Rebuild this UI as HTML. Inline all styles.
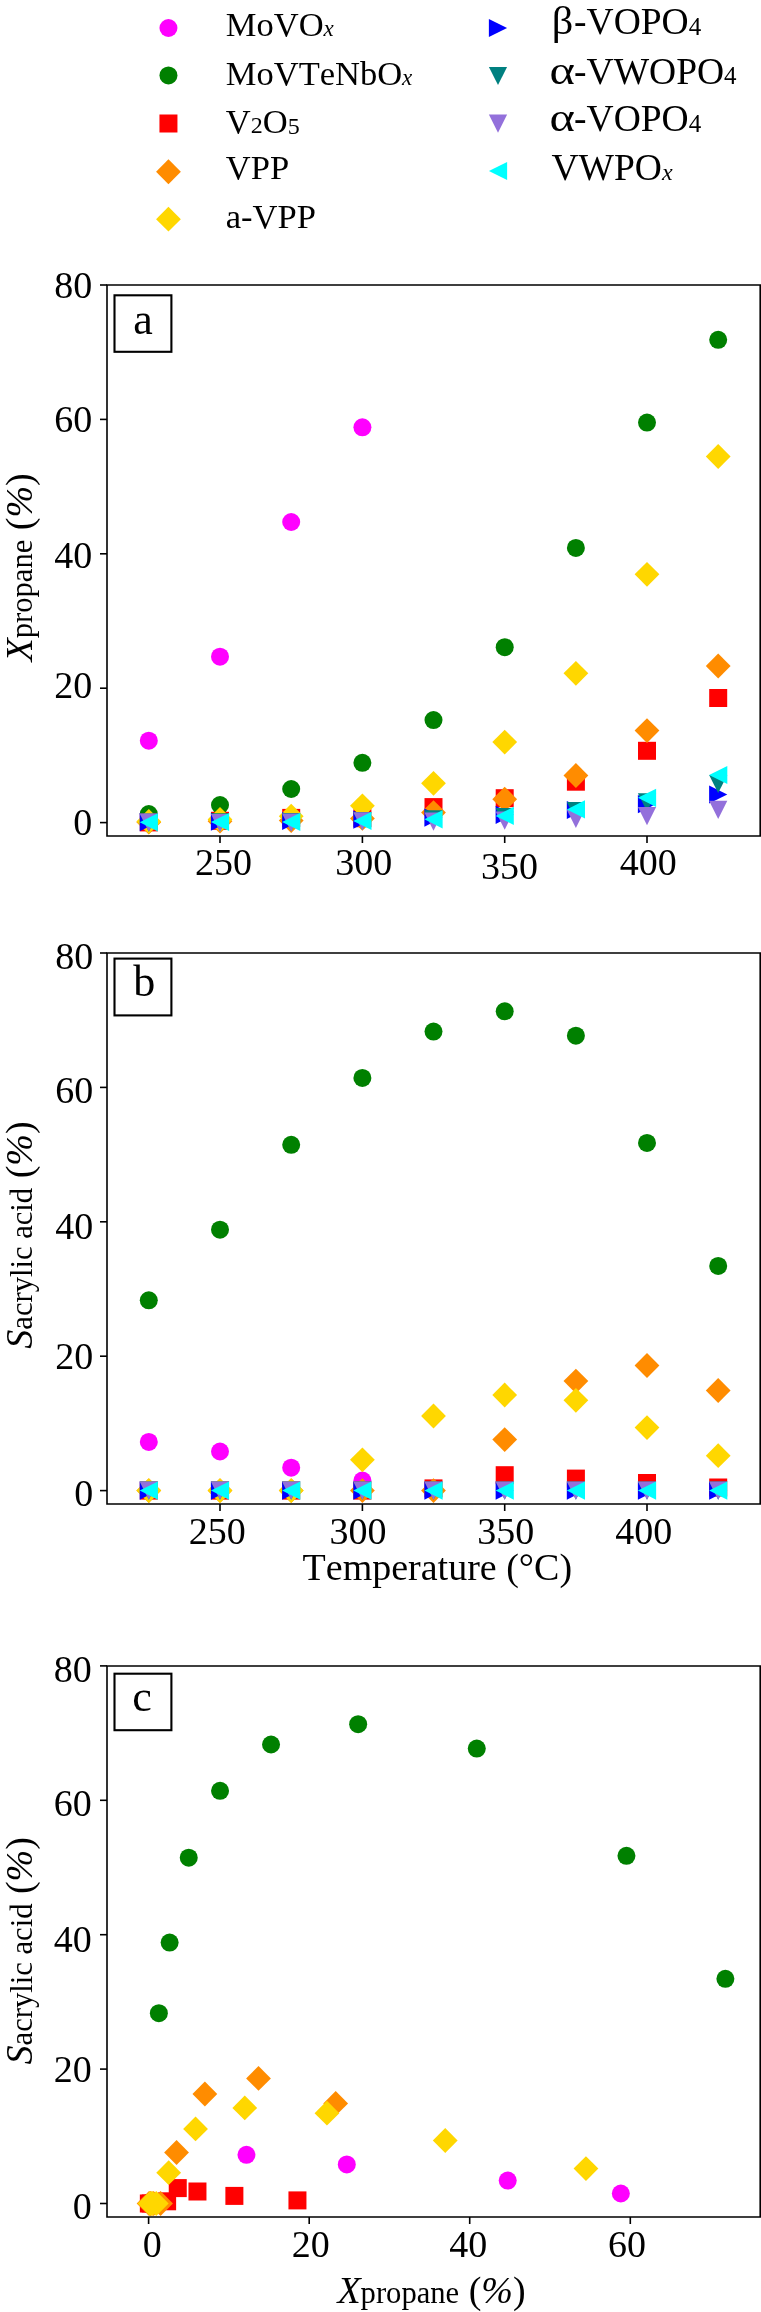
<!DOCTYPE html><html><head><meta charset="utf-8"><title>Propane oxidation catalysts</title><style>html,body{margin:0;padding:0;background:#fff;}svg{display:block;will-change:transform;} text{font-family:'Liberation Serif',serif;fill:#000;font-kerning:none;}</style></head><body>
<svg width="761" height="2312" viewBox="0 0 761 2312">
<rect width="761" height="2312" fill="#fff"/>
<circle cx="168.45" cy="28.00" r="9.0" fill="#FF00FF"/>
<circle cx="168.45" cy="75.45" r="9.0" fill="#008000"/>
<rect x="159.45" y="114.50" width="18.0" height="18.0" fill="#FF0000"/>
<path d="M168.45 159.35L180.85 171.75L168.45 184.15L156.05 171.75Z" fill="#FF8C00"/>
<path d="M168.45 206.80L180.85 219.20L168.45 231.60L156.05 219.20Z" fill="#FFD700"/>
<path d="M488.90 18.90L507.10 28.00L488.90 37.10Z" fill="#0000FF"/>
<path d="M488.90 66.90L507.10 66.90L498.00 85.10Z" fill="#008080"/>
<path d="M488.90 114.50L507.10 114.50L498.00 132.70Z" fill="#9370DB"/>
<path d="M507.10 161.90L488.90 171.00L507.10 180.10Z" fill="#00FFFF"/>
<text x="225.8" y="36.0" style="font-size:34.5px"><tspan>MoVO</tspan><tspan style="font-size:23px;font-style:italic">x</tspan></text>
<text x="225.8" y="85.0" style="font-size:34.5px"><tspan>MoVTeNbO</tspan><tspan style="font-size:23px;font-style:italic">x</tspan></text>
<text x="225.8" y="132.5" style="font-size:34.5px"><tspan>V</tspan><tspan style="font-size:24px" dy="0.6">2</tspan><tspan dy="-0.6"></tspan><tspan>O</tspan><tspan style="font-size:24px" dy="0.6">5</tspan><tspan dy="-0.6"></tspan></text>
<text x="225.8" y="179.1" style="font-size:34.5px"><tspan>VPP</tspan></text>
<text x="225.8" y="227.9" style="font-size:34.5px"><tspan>a-VPP</tspan></text>
<text transform="translate(551.8,34.1) scale(1.06,1)" x="0" y="0" style="font-size:40px">β</text>
<text x="574.1" y="34.1" style="font-size:37.5px"><tspan>-VOPO</tspan><tspan style="font-size:25px" dy="0.6">4</tspan><tspan dy="-0.6"></tspan></text>
<text transform="translate(549.6,83.5) scale(1.24,1)" x="0" y="0" style="font-size:39px">α</text>
<text x="574.1" y="83.5" style="font-size:37.5px"><tspan>-VWOPO</tspan><tspan style="font-size:25px" dy="0.6">4</tspan><tspan dy="-0.6"></tspan></text>
<text transform="translate(549.6,131.2) scale(1.24,1)" x="0" y="0" style="font-size:39px">α</text>
<text x="574.1" y="131.2" style="font-size:37.5px"><tspan>-VOPO</tspan><tspan style="font-size:25px" dy="0.6">4</tspan><tspan dy="-0.6"></tspan></text>
<text x="551.5" y="179.6" style="font-size:37.5px"><tspan>VWPO</tspan><tspan style="font-size:24px;font-style:italic">x</tspan></text>
<path d="M107.0 285.0V836.0H760.2V285.0Z" fill="none" stroke="#000" stroke-width="1.6" stroke-linejoin="miter"/><path d="M100.0 822.60H107.0" stroke="#000" stroke-width="1.6"/><text x="92.25" y="834.85" text-anchor="end" style="font-size:38px">0</text><path d="M100.0 688.20H107.0" stroke="#000" stroke-width="1.6"/><text x="92.25" y="697.90" text-anchor="end" style="font-size:38px">20</text><path d="M100.0 553.80H107.0" stroke="#000" stroke-width="1.6"/><text x="92.25" y="567.75" text-anchor="end" style="font-size:38px">40</text><path d="M100.0 419.40H107.0" stroke="#000" stroke-width="1.6"/><text x="92.25" y="432.35" text-anchor="end" style="font-size:38px">60</text><path d="M100.0 285.00H107.0" stroke="#000" stroke-width="1.6"/><text x="92.25" y="297.80" text-anchor="end" style="font-size:38px">80</text>
<path d="M220.0 836.0V843.0" stroke="#000" stroke-width="1.6"/><path d="M362.4 836.0V843.0" stroke="#000" stroke-width="1.6"/><path d="M504.7 836.0V843.0" stroke="#000" stroke-width="1.6"/><path d="M647.0 836.0V843.0" stroke="#000" stroke-width="1.6"/>
<text x="223.4" y="874.55" text-anchor="middle" style="font-size:38px">250</text><text x="363.8" y="874.55" text-anchor="middle" style="font-size:38px">300</text><text x="509.6" y="878.9" text-anchor="middle" style="font-size:38px">350</text><text x="648.3" y="874.85" text-anchor="middle" style="font-size:38px">400</text>
<circle cx="148.80" cy="740.70" r="9.0" fill="#FF00FF"/>
<circle cx="220.00" cy="656.70" r="9.0" fill="#FF00FF"/>
<circle cx="291.20" cy="522.00" r="9.0" fill="#FF00FF"/>
<circle cx="362.40" cy="427.30" r="9.0" fill="#FF00FF"/>
<circle cx="148.80" cy="814.00" r="9.0" fill="#008000"/>
<circle cx="220.00" cy="805.00" r="9.0" fill="#008000"/>
<circle cx="291.20" cy="789.00" r="9.0" fill="#008000"/>
<circle cx="362.40" cy="762.80" r="9.0" fill="#008000"/>
<circle cx="433.50" cy="720.10" r="9.0" fill="#008000"/>
<circle cx="504.70" cy="647.20" r="9.0" fill="#008000"/>
<circle cx="575.90" cy="547.90" r="9.0" fill="#008000"/>
<circle cx="647.00" cy="422.60" r="9.0" fill="#008000"/>
<circle cx="718.20" cy="339.80" r="9.0" fill="#008000"/>
<rect x="139.80" y="813.40" width="18.0" height="18.0" fill="#FF0000"/>
<rect x="211.00" y="811.80" width="18.0" height="18.0" fill="#FF0000"/>
<rect x="282.20" y="808.90" width="18.0" height="18.0" fill="#FF0000"/>
<rect x="353.40" y="809.20" width="18.0" height="18.0" fill="#FF0000"/>
<rect x="424.50" y="798.10" width="18.0" height="18.0" fill="#FF0000"/>
<rect x="495.70" y="789.20" width="18.0" height="18.0" fill="#FF0000"/>
<rect x="566.90" y="772.70" width="18.0" height="18.0" fill="#FF0000"/>
<rect x="638.00" y="741.80" width="18.0" height="18.0" fill="#FF0000"/>
<rect x="709.20" y="689.00" width="18.0" height="18.0" fill="#FF0000"/>
<path d="M148.80 809.80L161.20 822.20L148.80 834.60L136.40 822.20Z" fill="#FF8C00"/>
<path d="M220.00 808.80L232.40 821.20L220.00 833.60L207.60 821.20Z" fill="#FF8C00"/>
<path d="M291.20 808.20L303.60 820.60L291.20 833.00L278.80 820.60Z" fill="#FF8C00"/>
<path d="M362.40 806.00L374.80 818.40L362.40 830.80L350.00 818.40Z" fill="#FF8C00"/>
<path d="M433.50 800.20L445.90 812.60L433.50 825.00L421.10 812.60Z" fill="#FF8C00"/>
<path d="M504.70 786.80L517.10 799.20L504.70 811.60L492.30 799.20Z" fill="#FF8C00"/>
<path d="M575.90 763.10L588.30 775.50L575.90 787.90L563.50 775.50Z" fill="#FF8C00"/>
<path d="M647.00 718.20L659.40 730.60L647.00 743.00L634.60 730.60Z" fill="#FF8C00"/>
<path d="M718.20 653.60L730.60 666.00L718.20 678.40L705.80 666.00Z" fill="#FF8C00"/>
<path d="M148.80 809.00L161.20 821.40L148.80 833.80L136.40 821.40Z" fill="#FFD700"/>
<path d="M220.00 807.10L232.40 819.50L220.00 831.90L207.60 819.50Z" fill="#FFD700"/>
<path d="M291.20 803.80L303.60 816.20L291.20 828.60L278.80 816.20Z" fill="#FFD700"/>
<path d="M362.40 793.40L374.80 805.80L362.40 818.20L350.00 805.80Z" fill="#FFD700"/>
<path d="M433.50 770.90L445.90 783.30L433.50 795.70L421.10 783.30Z" fill="#FFD700"/>
<path d="M504.70 729.70L517.10 742.10L504.70 754.50L492.30 742.10Z" fill="#FFD700"/>
<path d="M575.90 660.90L588.30 673.30L575.90 685.70L563.50 673.30Z" fill="#FFD700"/>
<path d="M647.00 561.90L659.40 574.30L647.00 586.70L634.60 574.30Z" fill="#FFD700"/>
<path d="M718.20 444.10L730.60 456.50L718.20 468.90L705.80 456.50Z" fill="#FFD700"/>
<path d="M139.70 813.10L157.90 822.20L139.70 831.30Z" fill="#0000FF"/>
<path d="M210.90 812.60L229.10 821.70L210.90 830.80Z" fill="#0000FF"/>
<path d="M282.10 811.90L300.30 821.00L282.10 830.10Z" fill="#0000FF"/>
<path d="M353.30 810.60L371.50 819.70L353.30 828.80Z" fill="#0000FF"/>
<path d="M424.40 808.50L442.60 817.60L424.40 826.70Z" fill="#0000FF"/>
<path d="M495.60 805.70L513.80 814.80L495.60 823.90Z" fill="#0000FF"/>
<path d="M566.80 800.90L585.00 810.00L566.80 819.10Z" fill="#0000FF"/>
<path d="M637.90 795.00L656.10 804.10L637.90 813.20Z" fill="#0000FF"/>
<path d="M709.10 785.40L727.30 794.50L709.10 803.60Z" fill="#0000FF"/>
<path d="M139.70 813.50L157.90 813.50L148.80 831.70Z" fill="#008080"/>
<path d="M210.90 813.30L229.10 813.30L220.00 831.50Z" fill="#008080"/>
<path d="M282.10 813.10L300.30 813.10L291.20 831.30Z" fill="#008080"/>
<path d="M353.30 811.90L371.50 811.90L362.40 830.10Z" fill="#008080"/>
<path d="M424.40 810.30L442.60 810.30L433.50 828.50Z" fill="#008080"/>
<path d="M495.60 808.00L513.80 808.00L504.70 826.20Z" fill="#008080"/>
<path d="M566.80 801.90L585.00 801.90L575.90 820.10Z" fill="#008080"/>
<path d="M637.90 793.30L656.10 793.30L647.00 811.50Z" fill="#008080"/>
<path d="M709.10 774.90L727.30 774.90L718.20 793.10Z" fill="#008080"/>
<path d="M139.70 813.50L157.90 813.50L148.80 831.70Z" fill="#9370DB"/>
<path d="M210.90 813.90L229.10 813.90L220.00 832.10Z" fill="#9370DB"/>
<path d="M282.10 813.60L300.30 813.60L291.20 831.80Z" fill="#9370DB"/>
<path d="M353.30 812.30L371.50 812.30L362.40 830.50Z" fill="#9370DB"/>
<path d="M424.40 812.60L442.60 812.60L433.50 830.80Z" fill="#9370DB"/>
<path d="M495.60 811.50L513.80 811.50L504.70 829.70Z" fill="#9370DB"/>
<path d="M566.80 809.70L585.00 809.70L575.90 827.90Z" fill="#9370DB"/>
<path d="M637.90 807.10L656.10 807.10L647.00 825.30Z" fill="#9370DB"/>
<path d="M709.10 800.70L727.30 800.70L718.20 818.90Z" fill="#9370DB"/>
<path d="M157.90 813.20L139.70 822.30L157.90 831.40Z" fill="#00FFFF"/>
<path d="M229.10 812.90L210.90 822.00L229.10 831.10Z" fill="#00FFFF"/>
<path d="M300.30 812.80L282.10 821.90L300.30 831.00Z" fill="#00FFFF"/>
<path d="M371.50 811.80L353.30 820.90L371.50 830.00Z" fill="#00FFFF"/>
<path d="M442.60 810.20L424.40 819.30L442.60 828.40Z" fill="#00FFFF"/>
<path d="M513.80 806.80L495.60 815.90L513.80 825.00Z" fill="#00FFFF"/>
<path d="M585.00 800.30L566.80 809.40L585.00 818.50Z" fill="#00FFFF"/>
<path d="M656.10 788.70L637.90 797.80L656.10 806.90Z" fill="#00FFFF"/>
<path d="M727.30 765.90L709.10 775.00L727.30 784.10Z" fill="#00FFFF"/>
<rect x="114.5" y="295.3" width="56.90" height="56.50" fill="#fff" stroke="#000" stroke-width="2.1"/><text x="142.9" y="333.5" text-anchor="middle" style="font-size:44px">a</text>
<text transform="translate(32.0,661.5) rotate(-90)" x="0" y="0" style="font-size:38px"><tspan style="font-style:italic">X</tspan><tspan style="font-size:30.6px">propane</tspan><tspan> (</tspan><tspan style="font-style:italic">%</tspan><tspan>)</tspan></text>
<path d="M107.0 953.0V1504.0H760.2V953.0Z" fill="none" stroke="#000" stroke-width="1.6" stroke-linejoin="miter"/><path d="M100.0 1490.60H107.0" stroke="#000" stroke-width="1.6"/><text x="93.25" y="1505.85" text-anchor="end" style="font-size:38px">0</text><path d="M100.0 1356.20H107.0" stroke="#000" stroke-width="1.6"/><text x="93.25" y="1368.80" text-anchor="end" style="font-size:38px">20</text><path d="M100.0 1221.80H107.0" stroke="#000" stroke-width="1.6"/><text x="93.25" y="1238.95" text-anchor="end" style="font-size:38px">40</text><path d="M100.0 1087.40H107.0" stroke="#000" stroke-width="1.6"/><text x="93.25" y="1103.25" text-anchor="end" style="font-size:38px">60</text><path d="M100.0 953.00H107.0" stroke="#000" stroke-width="1.6"/><text x="93.25" y="968.75" text-anchor="end" style="font-size:38px">80</text>
<path d="M220.0 1504.0V1511.0" stroke="#000" stroke-width="1.6"/><path d="M362.4 1504.0V1511.0" stroke="#000" stroke-width="1.6"/><path d="M504.7 1504.0V1511.0" stroke="#000" stroke-width="1.6"/><path d="M647.0 1504.0V1511.0" stroke="#000" stroke-width="1.6"/>
<text x="217.15" y="1543.8" text-anchor="middle" style="font-size:38px">250</text><text x="358.05" y="1543.8" text-anchor="middle" style="font-size:38px">300</text><text x="505.8" y="1543.8" text-anchor="middle" style="font-size:38px">350</text><text x="643.85" y="1543.8" text-anchor="middle" style="font-size:38px">400</text>
<circle cx="148.80" cy="1441.90" r="9.0" fill="#FF00FF"/>
<circle cx="220.00" cy="1451.50" r="9.0" fill="#FF00FF"/>
<circle cx="291.20" cy="1467.70" r="9.0" fill="#FF00FF"/>
<circle cx="362.40" cy="1480.60" r="9.0" fill="#FF00FF"/>
<circle cx="148.80" cy="1300.30" r="9.0" fill="#008000"/>
<circle cx="220.00" cy="1229.70" r="9.0" fill="#008000"/>
<circle cx="291.20" cy="1144.80" r="9.0" fill="#008000"/>
<circle cx="362.40" cy="1077.90" r="9.0" fill="#008000"/>
<circle cx="433.50" cy="1031.60" r="9.0" fill="#008000"/>
<circle cx="504.70" cy="1011.30" r="9.0" fill="#008000"/>
<circle cx="575.90" cy="1035.70" r="9.0" fill="#008000"/>
<circle cx="647.00" cy="1142.90" r="9.0" fill="#008000"/>
<circle cx="718.20" cy="1265.90" r="9.0" fill="#008000"/>
<rect x="139.80" y="1481.60" width="18.0" height="18.0" fill="#FF0000"/>
<rect x="211.00" y="1481.60" width="18.0" height="18.0" fill="#FF0000"/>
<rect x="282.20" y="1481.60" width="18.0" height="18.0" fill="#FF0000"/>
<rect x="353.40" y="1481.60" width="18.0" height="18.0" fill="#FF0000"/>
<rect x="424.50" y="1479.40" width="18.0" height="18.0" fill="#FF0000"/>
<rect x="495.70" y="1466.20" width="18.0" height="18.0" fill="#FF0000"/>
<rect x="566.90" y="1469.60" width="18.0" height="18.0" fill="#FF0000"/>
<rect x="638.00" y="1474.00" width="18.0" height="18.0" fill="#FF0000"/>
<rect x="709.20" y="1478.50" width="18.0" height="18.0" fill="#FF0000"/>
<path d="M148.80 1478.20L161.20 1490.60L148.80 1503.00L136.40 1490.60Z" fill="#FF8C00"/>
<path d="M220.00 1478.20L232.40 1490.60L220.00 1503.00L207.60 1490.60Z" fill="#FF8C00"/>
<path d="M291.20 1478.20L303.60 1490.60L291.20 1503.00L278.80 1490.60Z" fill="#FF8C00"/>
<path d="M362.40 1478.20L374.80 1490.60L362.40 1503.00L350.00 1490.60Z" fill="#FF8C00"/>
<path d="M433.50 1478.20L445.90 1490.60L433.50 1503.00L421.10 1490.60Z" fill="#FF8C00"/>
<path d="M504.70 1427.20L517.10 1439.60L504.70 1452.00L492.30 1439.60Z" fill="#FF8C00"/>
<path d="M575.90 1368.70L588.30 1381.10L575.90 1393.50L563.50 1381.10Z" fill="#FF8C00"/>
<path d="M647.00 1353.10L659.40 1365.50L647.00 1377.90L634.60 1365.50Z" fill="#FF8C00"/>
<path d="M718.20 1378.10L730.60 1390.50L718.20 1402.90L705.80 1390.50Z" fill="#FF8C00"/>
<path d="M148.80 1478.20L161.20 1490.60L148.80 1503.00L136.40 1490.60Z" fill="#FFD700"/>
<path d="M220.00 1478.20L232.40 1490.60L220.00 1503.00L207.60 1490.60Z" fill="#FFD700"/>
<path d="M291.20 1478.20L303.60 1490.60L291.20 1503.00L278.80 1490.60Z" fill="#FFD700"/>
<path d="M362.40 1447.40L374.80 1459.80L362.40 1472.20L350.00 1459.80Z" fill="#FFD700"/>
<path d="M433.50 1403.60L445.90 1416.00L433.50 1428.40L421.10 1416.00Z" fill="#FFD700"/>
<path d="M504.70 1382.60L517.10 1395.00L504.70 1407.40L492.30 1395.00Z" fill="#FFD700"/>
<path d="M575.90 1387.90L588.30 1400.30L575.90 1412.70L563.50 1400.30Z" fill="#FFD700"/>
<path d="M647.00 1415.20L659.40 1427.60L647.00 1440.00L634.60 1427.60Z" fill="#FFD700"/>
<path d="M718.20 1443.30L730.60 1455.70L718.20 1468.10L705.80 1455.70Z" fill="#FFD700"/>
<path d="M139.70 1481.50L157.90 1490.60L139.70 1499.70Z" fill="#0000FF"/>
<path d="M210.90 1481.50L229.10 1490.60L210.90 1499.70Z" fill="#0000FF"/>
<path d="M282.10 1481.50L300.30 1490.60L282.10 1499.70Z" fill="#0000FF"/>
<path d="M353.30 1481.50L371.50 1490.60L353.30 1499.70Z" fill="#0000FF"/>
<path d="M424.40 1481.50L442.60 1490.60L424.40 1499.70Z" fill="#0000FF"/>
<path d="M495.60 1481.50L513.80 1490.60L495.60 1499.70Z" fill="#0000FF"/>
<path d="M566.80 1481.50L585.00 1490.60L566.80 1499.70Z" fill="#0000FF"/>
<path d="M637.90 1481.50L656.10 1490.60L637.90 1499.70Z" fill="#0000FF"/>
<path d="M709.10 1481.50L727.30 1490.60L709.10 1499.70Z" fill="#0000FF"/>
<path d="M139.70 1481.50L157.90 1481.50L148.80 1499.70Z" fill="#008080"/>
<path d="M210.90 1481.50L229.10 1481.50L220.00 1499.70Z" fill="#008080"/>
<path d="M282.10 1481.50L300.30 1481.50L291.20 1499.70Z" fill="#008080"/>
<path d="M353.30 1481.50L371.50 1481.50L362.40 1499.70Z" fill="#008080"/>
<path d="M424.40 1481.50L442.60 1481.50L433.50 1499.70Z" fill="#008080"/>
<path d="M495.60 1481.50L513.80 1481.50L504.70 1499.70Z" fill="#008080"/>
<path d="M566.80 1481.50L585.00 1481.50L575.90 1499.70Z" fill="#008080"/>
<path d="M637.90 1481.50L656.10 1481.50L647.00 1499.70Z" fill="#008080"/>
<path d="M709.10 1481.50L727.30 1481.50L718.20 1499.70Z" fill="#008080"/>
<path d="M139.70 1481.50L157.90 1481.50L148.80 1499.70Z" fill="#9370DB"/>
<path d="M210.90 1481.50L229.10 1481.50L220.00 1499.70Z" fill="#9370DB"/>
<path d="M282.10 1481.50L300.30 1481.50L291.20 1499.70Z" fill="#9370DB"/>
<path d="M353.30 1481.50L371.50 1481.50L362.40 1499.70Z" fill="#9370DB"/>
<path d="M424.40 1481.50L442.60 1481.50L433.50 1499.70Z" fill="#9370DB"/>
<path d="M495.60 1481.50L513.80 1481.50L504.70 1499.70Z" fill="#9370DB"/>
<path d="M566.80 1481.50L585.00 1481.50L575.90 1499.70Z" fill="#9370DB"/>
<path d="M637.90 1481.50L656.10 1481.50L647.00 1499.70Z" fill="#9370DB"/>
<path d="M709.10 1481.50L727.30 1481.50L718.20 1499.70Z" fill="#9370DB"/>
<path d="M157.90 1481.50L139.70 1490.60L157.90 1499.70Z" fill="#00FFFF"/>
<path d="M229.10 1481.50L210.90 1490.60L229.10 1499.70Z" fill="#00FFFF"/>
<path d="M300.30 1481.50L282.10 1490.60L300.30 1499.70Z" fill="#00FFFF"/>
<path d="M371.50 1481.50L353.30 1490.60L371.50 1499.70Z" fill="#00FFFF"/>
<path d="M442.60 1481.50L424.40 1490.60L442.60 1499.70Z" fill="#00FFFF"/>
<path d="M513.80 1481.50L495.60 1490.60L513.80 1499.70Z" fill="#00FFFF"/>
<path d="M585.00 1481.50L566.80 1490.60L585.00 1499.70Z" fill="#00FFFF"/>
<path d="M656.10 1481.50L637.90 1490.60L656.10 1499.70Z" fill="#00FFFF"/>
<path d="M727.30 1481.50L709.10 1490.60L727.30 1499.70Z" fill="#00FFFF"/>
<rect x="114.5" y="958.6" width="56.90" height="56.80" fill="#fff" stroke="#000" stroke-width="2.1"/><text x="144.2" y="995.9" text-anchor="middle" style="font-size:44px">b</text>
<text transform="translate(32.0,1348.7) rotate(-90)" x="0" y="0" style="font-size:38px"><tspan style="font-style:italic">S</tspan><tspan style="font-size:30.6px">acrylic acid</tspan><tspan> (</tspan><tspan style="font-style:italic">%</tspan><tspan>)</tspan></text>
<text x="302.6" y="1580" style="font-size:38px">Temperature (°C)</text>
<path d="M107.0 1666.0V2217.0H760.2V1666.0Z" fill="none" stroke="#000" stroke-width="1.6" stroke-linejoin="miter"/><path d="M100.0 2203.50H107.0" stroke="#000" stroke-width="1.6"/><text x="91.85" y="2218.80" text-anchor="end" style="font-size:38px">0</text><path d="M100.0 2069.10H107.0" stroke="#000" stroke-width="1.6"/><text x="91.85" y="2081.85" text-anchor="end" style="font-size:38px">20</text><path d="M100.0 1934.70H107.0" stroke="#000" stroke-width="1.6"/><text x="91.85" y="1951.80" text-anchor="end" style="font-size:38px">40</text><path d="M100.0 1800.30H107.0" stroke="#000" stroke-width="1.6"/><text x="91.85" y="1816.30" text-anchor="end" style="font-size:38px">60</text><path d="M100.0 1665.90H107.0" stroke="#000" stroke-width="1.6"/><text x="91.85" y="1681.75" text-anchor="end" style="font-size:38px">80</text>
<path d="M148.6 2217.0V2224.0" stroke="#000" stroke-width="1.6"/><path d="M309.2 2217.0V2224.0" stroke="#000" stroke-width="1.6"/><path d="M469.7 2217.0V2224.0" stroke="#000" stroke-width="1.6"/><path d="M630.3 2217.0V2224.0" stroke="#000" stroke-width="1.6"/>
<text x="152.2" y="2257.3" text-anchor="middle" style="font-size:38px">0</text><text x="310.65" y="2257.3" text-anchor="middle" style="font-size:38px">20</text><text x="468.15" y="2257.3" text-anchor="middle" style="font-size:38px">40</text><text x="627.05" y="2257.3" text-anchor="middle" style="font-size:38px">60</text>
<circle cx="246.44" cy="2154.80" r="9.0" fill="#FF00FF"/>
<circle cx="346.79" cy="2164.40" r="9.0" fill="#FF00FF"/>
<circle cx="507.71" cy="2180.60" r="9.0" fill="#FF00FF"/>
<circle cx="620.84" cy="2193.50" r="9.0" fill="#FF00FF"/>
<circle cx="158.87" cy="2013.20" r="9.0" fill="#008000"/>
<circle cx="169.63" cy="1942.60" r="9.0" fill="#008000"/>
<circle cx="188.74" cy="1857.70" r="9.0" fill="#008000"/>
<circle cx="220.04" cy="1790.80" r="9.0" fill="#008000"/>
<circle cx="271.05" cy="1744.50" r="9.0" fill="#008000"/>
<circle cx="358.14" cy="1724.20" r="9.0" fill="#008000"/>
<circle cx="476.77" cy="1748.60" r="9.0" fill="#008000"/>
<circle cx="626.46" cy="1855.80" r="9.0" fill="#008000"/>
<circle cx="725.37" cy="1978.80" r="9.0" fill="#008000"/>
<rect x="139.84" y="2194.50" width="18.0" height="18.0" fill="#FF0000"/>
<rect x="141.75" y="2194.50" width="18.0" height="18.0" fill="#FF0000"/>
<rect x="145.21" y="2194.50" width="18.0" height="18.0" fill="#FF0000"/>
<rect x="144.86" y="2194.50" width="18.0" height="18.0" fill="#FF0000"/>
<rect x="158.12" y="2192.30" width="18.0" height="18.0" fill="#FF0000"/>
<rect x="168.75" y="2179.10" width="18.0" height="18.0" fill="#FF0000"/>
<rect x="188.46" y="2182.50" width="18.0" height="18.0" fill="#FF0000"/>
<rect x="225.38" y="2186.90" width="18.0" height="18.0" fill="#FF0000"/>
<rect x="288.45" y="2191.40" width="18.0" height="18.0" fill="#FF0000"/>
<path d="M149.08 2191.10L161.48 2203.50L149.08 2215.90L136.68 2203.50Z" fill="#FF8C00"/>
<path d="M150.27 2191.10L162.67 2203.50L150.27 2215.90L137.87 2203.50Z" fill="#FF8C00"/>
<path d="M150.99 2191.10L163.39 2203.50L150.99 2215.90L138.59 2203.50Z" fill="#FF8C00"/>
<path d="M153.62 2191.10L166.02 2203.50L153.62 2215.90L141.22 2203.50Z" fill="#FF8C00"/>
<path d="M160.55 2191.10L172.95 2203.50L160.55 2215.90L148.15 2203.50Z" fill="#FF8C00"/>
<path d="M176.55 2140.10L188.95 2152.50L176.55 2164.90L164.15 2152.50Z" fill="#FF8C00"/>
<path d="M204.87 2081.60L217.27 2094.00L204.87 2106.40L192.47 2094.00Z" fill="#FF8C00"/>
<path d="M258.51 2066.00L270.91 2078.40L258.51 2090.80L246.11 2078.40Z" fill="#FF8C00"/>
<path d="M335.68 2091.00L348.08 2103.40L335.68 2115.80L323.28 2103.40Z" fill="#FF8C00"/>
<path d="M150.03 2191.10L162.43 2203.50L150.03 2215.90L137.63 2203.50Z" fill="#FFD700"/>
<path d="M152.30 2191.10L164.70 2203.50L152.30 2215.90L139.90 2203.50Z" fill="#FFD700"/>
<path d="M156.25 2191.10L168.65 2203.50L156.25 2215.90L143.85 2203.50Z" fill="#FFD700"/>
<path d="M168.67 2160.30L181.07 2172.70L168.67 2185.10L156.27 2172.70Z" fill="#FFD700"/>
<path d="M195.55 2116.50L207.95 2128.90L195.55 2141.30L183.15 2128.90Z" fill="#FFD700"/>
<path d="M244.77 2095.50L257.17 2107.90L244.77 2120.30L232.37 2107.90Z" fill="#FFD700"/>
<path d="M326.96 2100.80L339.36 2113.20L326.96 2125.60L314.56 2113.20Z" fill="#FFD700"/>
<path d="M445.23 2128.10L457.63 2140.50L445.23 2152.90L432.83 2140.50Z" fill="#FFD700"/>
<path d="M585.96 2156.20L598.36 2168.60L585.96 2181.00L573.56 2168.60Z" fill="#FFD700"/>
<rect x="114.5" y="1673.7" width="56.90" height="56.50" fill="#fff" stroke="#000" stroke-width="2.1"/><text x="142.1" y="1711.1" text-anchor="middle" style="font-size:44px">c</text>
<text transform="translate(32.0,2064.4) rotate(-90)" x="0" y="0" style="font-size:38px"><tspan style="font-style:italic">S</tspan><tspan style="font-size:30.6px">acrylic acid</tspan><tspan> (</tspan><tspan style="font-style:italic">%</tspan><tspan>)</tspan></text>
<text x="337.4" y="2303" style="font-size:38px"><tspan style="font-style:italic">X</tspan><tspan style="font-size:30.6px">propane</tspan><tspan> (</tspan><tspan style="font-style:italic">%</tspan><tspan>)</tspan></text>
</svg></body></html>
